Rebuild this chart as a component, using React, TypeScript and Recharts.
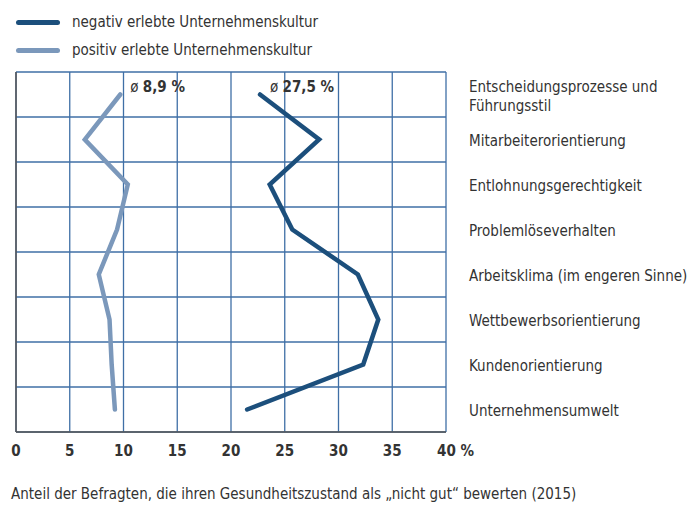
import { LineChart, Line, XAxis, YAxis, CartesianGrid, ReferenceLine, LabelList } from 'recharts';

const categories = [
  'Entscheidungsprozesse und\nFührungsstil',
  'Mitarbeiterorientierung',
  'Entlohnungsgerechtigkeit',
  'Problemlöseverhalten',
  'Arbeitsklima (im engeren Sinne)',
  'Wettbewerbsorientierung',
  'Kundenorientierung',
  'Unternehmensumwelt',
];
const negativ = [22.7, 28.2, 23.6, 25.7, 31.8, 33.7, 32.3, 21.5];
const positiv = [9.7, 6.4, 10.4, 9.4, 7.7, 8.7, 8.9, 9.2];
const xTicks = [0, 5, 10, 15, 20, 25, 30, 35, 40];
const averages = { negativ: '27,5', positiv: '8,9' };

const data = categories.map((name, i) => ({ name, negativ: negativ[i], positiv: positiv[i] }));

const FONT = '"Liberation Sans Narrow", "DejaVu Sans Condensed", sans-serif';
const TEXT = '#333333';
const DARK = '#1c4f7c';
const LIGHT = '#7b98bb';
const GRID = '#3f6fa6';

const CategoryTick = (props: any) => {
  const { x, y, payload } = props;
  const lines = String(payload.value).split('\n');
  const startY = y - ((lines.length - 1) * 19) / 2 + 1.5;
  return (
    <text x={x + 23} y={startY} fill={TEXT} fontSize={15} fontFamily={FONT} textAnchor="start" dominantBaseline="middle">
      {lines.map((l, i) => (
        <tspan key={i} x={x + 23} y={startY + i * 19}>{l}</tspan>
      ))}
    </text>
  );
};

const ValueTick = (props: any) => {
  const { x, y, payload } = props;
  const last = payload.value === 40;
  return (
    <text x={last ? x - 9 : x} y={y + 16} fill={TEXT} fontSize={15} fontWeight={600} fontFamily={FONT} textAnchor={last ? 'start' : 'middle'}>
      {last ? `${payload.value} %` : payload.value}
    </text>
  );
};

const avgLabel = (avg: string) => (props: any) => {
  const { x, y, index } = props;
  if (index !== 0) return null;
  return (
    <text x={x + 10} y={y - 3} fill={TEXT} fontSize={15} fontFamily={FONT}>
      <tspan>ø </tspan>
      <tspan fontWeight={700}>{avg} %</tspan>
    </text>
  );
};

const rowLines = ({ offset }: any) => {
  const n = categories.length;
  return Array.from({ length: n + 1 }, (_, i) => offset.top + (i * offset.height) / n);
};

export default function App() {
  return (
    <div style={{ position: 'absolute', left: 0, top: 0, width: 694, height: 506, background: '#fff', fontFamily: FONT, color: TEXT }}>
      <div style={{ position: 'absolute', left: 16, top: 8, fontSize: 15 }}>
        {[
          { label: 'negativ erlebte Unternehmenskultur', color: DARK },
          { label: 'positiv erlebte Unternehmenskultur', color: LIGHT },
        ].map((item) => (
          <div key={item.label} style={{ display: 'flex', alignItems: 'center', height: 28 }}>
            <span style={{ display: 'inline-block', width: 44, height: 5, borderRadius: 3, background: item.color, marginRight: 12 }} />
            <span>{item.label}</span>
          </div>
        ))}
      </div>
      <LineChart
        width={694}
        height={506}
        data={data}
        layout="vertical"
        margin={{ top: 72, right: 8, bottom: 44, left: 16 }}
      >
        <CartesianGrid stroke={GRID} strokeWidth={1.3} horizontalCoordinatesGenerator={rowLines} />
        <XAxis
          type="number"
          domain={[0, 40]}
          ticks={xTicks}
          height={30}
          axisLine={{ stroke: '#555', strokeWidth: 1.5 }}
          tickLine={false}
          tick={<ValueTick />}
          interval={0}
        />
        <YAxis
          type="category"
          dataKey="name"
          scale="band"
          orientation="right"
          width={240}
          axisLine={false}
          tickLine={false}
          tickSize={0}
          tickMargin={0}
          interval={0}
          tick={<CategoryTick />}
        />
        <ReferenceLine x={0} stroke="#555" strokeWidth={1.5} />
        <Line dataKey="positiv" stroke={LIGHT} strokeWidth={4.5} dot={false} strokeLinecap="round" isAnimationActive={false}>
          <LabelList dataKey="positiv" content={avgLabel(averages.positiv)} />
        </Line>
        <Line dataKey="negativ" stroke={DARK} strokeWidth={4.5} dot={false} strokeLinecap="round" isAnimationActive={false}>
          <LabelList dataKey="negativ" content={avgLabel(averages.negativ)} />
        </Line>
      </LineChart>
      <div style={{ position: 'absolute', left: 11, top: 485, fontSize: 15, whiteSpace: 'nowrap' }}>
        Anteil der Befragten, die ihren Gesundheitszustand als „nicht gut“ bewerten (2015)
      </div>
    </div>
  );
}
